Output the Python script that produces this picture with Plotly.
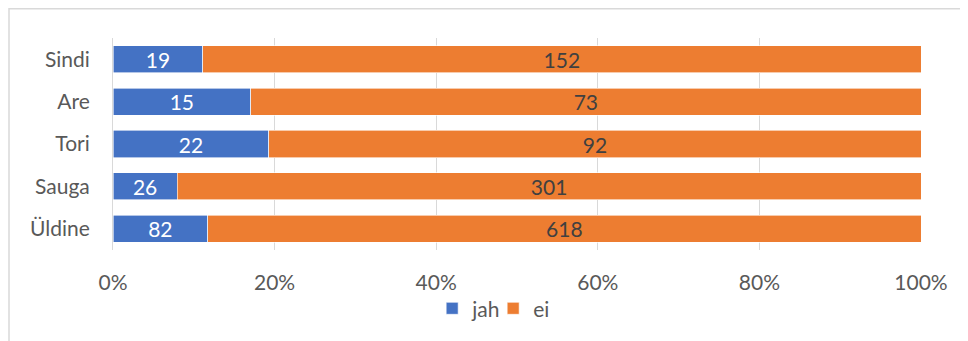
import plotly.graph_objects as go

categories = ['Sindi', 'Are', 'Tori', 'Sauga', 'Üldine']
jah = [19, 15, 22, 26, 82]
ei = [152, 73, 92, 301, 618]
tick_vals = [0, 20, 40, 60, 80, 100]
tick_text = ['0%', '20%', '40%', '60%', '80%', '100%']

# the page body adds an 8px offset, so the figure sits at (8, 8) in the window
W, H = 968, 341
L, R, T, B = 105, 55, 30, 99

font_family = 'Lato, Open Sans, sans-serif'
text_grey = '#595959'
fs = 21

fig = go.Figure()
fig.add_trace(go.Bar(y=categories, x=jah, name='jah', orientation='h',
                     marker=dict(color='#4472C4', line=dict(color='white', width=0.6)),
                     text=[str(v) for v in jah], textposition='inside', insidetextanchor='middle',
                     textangle=0, constraintext='none',
                     textfont=dict(color='white', size=fs, family=font_family)))
fig.add_trace(go.Bar(y=categories, x=ei, name='ei', orientation='h',
                     marker=dict(color='#ED7D31', line=dict(color='white', width=0.6)),
                     text=[str(v) for v in ei], textposition='inside', insidetextanchor='middle',
                     textangle=0, constraintext='none',
                     textfont=dict(color='#404040', size=fs, family=font_family)))

pw = W - L - R
ph = H - T - B
# chart frame (light grey), clipped by the window on right and bottom
fig.add_shape(type='rect', xref='paper', yref='paper',
              x0=(1 - L) / pw, x1=(W + 5 - L) / pw,
              y0=-(H + 5 - T - ph) / ph, y1=1 + (T - 0.8) / ph,
              line=dict(color='#D9D9D9', width=1.5), layer='below')

fig.update_layout(
    width=W, height=H,
    margin=dict(l=L, r=R, t=T, b=B, autoexpand=False),
    barmode='stack', barnorm='percent', bargap=0.36,
    paper_bgcolor='white', plot_bgcolor='white',
    font=dict(family=font_family, size=fs, color=text_grey),
    xaxis=dict(range=[0, 100], tickvals=tick_vals, ticktext=tick_text,
               showgrid=True, gridcolor='#D9D9D9', gridwidth=1,
               zeroline=False, showline=False, ticks='', ticklabelstandoff=18,
               automargin=False,
               tickfont=dict(size=fs, color=text_grey)),
    yaxis=dict(autorange='reversed', showgrid=False, zeroline=False,
               showline=True, linecolor='#D9D9D9', linewidth=1,
               ticks='', ticklabelstandoff=18, automargin=False,
               tickfont=dict(size=fs, color=text_grey)),
    legend=dict(orientation='h', x=0.395, xanchor='left', y=-0.18, yanchor='top',
                bgcolor='rgba(0,0,0,0)', borderwidth=0,
                font=dict(size=fs, color=text_grey), itemwidth=30,
                entrywidth=16, entrywidthmode='pixels',
                traceorder='normal'),
    showlegend=True,
)

fig.write_html('out.html')
